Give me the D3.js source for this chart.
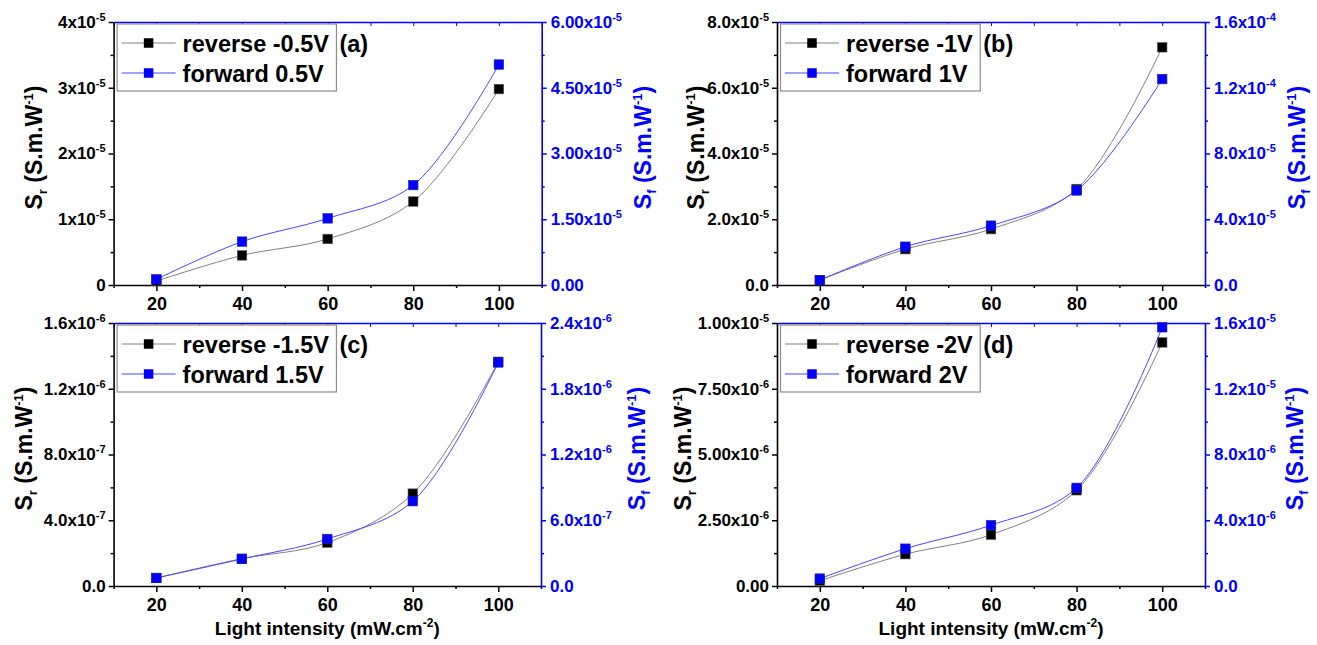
<!DOCTYPE html>
<html>
<head>
<meta charset="utf-8">
<script src="https://cdn.jsdelivr.net/npm/d3@7"></script>
<style>
  body { margin: 0; background: #fff; }
  svg text { font-family: "Liberation Sans", Arial, sans-serif; font-weight: bold; }
</style>
</head>
<body>
<svg id="chart" width="1317" height="645"></svg>
<script>
// light intensity (mW.cm-2)
const intensity = [20, 40, 60, 80, 100];

// photosensitivity values (S.m.W-1)
const reverseA = [0.6e-6, 4.5e-6, 7.0e-6, 12.7e-6, 29.8e-6];
const forwardA = [1.3e-6, 9.9e-6, 15.2e-6, 22.8e-6, 50.3e-6];
const reverseB = [1.5e-6, 10.9e-6, 17.0e-6, 29.2e-6, 72.3e-6];
const forwardB = [3.0e-6, 23.3e-6, 36.1e-6, 57.5e-6, 125.3e-6];
const reverseC = [0.49e-7, 1.66e-7, 2.64e-7, 5.62e-7, 13.64e-7];
const forwardC = [0.73e-7, 2.47e-7, 4.29e-7, 7.74e-7, 20.4e-7];
const reverseD = [0.2e-6, 1.21e-6, 1.95e-6, 3.64e-6, 9.26e-6];
const forwardD = [0.45e-6, 2.27e-6, 3.70e-6, 5.97e-6, 15.74e-6];

const reverseNames = ["reverse -0.5V", "reverse -1V", "reverse -1.5V", "reverse -2V"];
const forwardNames = ["forward 0.5V", "forward 1V", "forward 1.5V", "forward 2V"];
const panelLetters = ["(a)", "(b)", "(c)", "(d)"];

// tick labels ("^" marks the superscript part)
const leftTicksA = ["0", "1x10^-5", "2x10^-5", "3x10^-5", "4x10^-5"];
const rightTicksA = ["0.00", "1.50x10^-5", "3.00x10^-5", "4.50x10^-5", "6.00x10^-5"];
const leftTicksB = ["0.0", "2.0x10^-5", "4.0x10^-5", "6.0x10^-5", "8.0x10^-5"];
const rightTicksB = ["0.0", "4.0x10^-5", "8.0x10^-5", "1.2x10^-4", "1.6x10^-4"];
const leftTicksC = ["0.0", "4.0x10^-7", "8.0x10^-7", "1.2x10^-6", "1.6x10^-6"];
const rightTicksC = ["0.0", "6.0x10^-7", "1.2x10^-6", "1.8x10^-6", "2.4x10^-6"];
const leftTicksD = ["0.00", "2.50x10^-6", "5.00x10^-6", "7.50x10^-6", "1.00x10^-5"];
const rightTicksD = ["0.0", "4.0x10^-6", "8.0x10^-6", "1.2x10^-5", "1.6x10^-5"];

const xDomain = [10, 110];
const xMinor = [10, 30, 50, 70, 90, 110];
const xTop = [10, 20, 30, 40, 50, 60, 70, 80, 90, 100, 110];

const BLUE = "#0000ff";

const panels = [
  { rev: reverseA, fwd: forwardA, lt: leftTicksA, rt: rightTicksA,
    left: 113.6, right: 541.7, top: 22, bottom: 285, ltx: 42, rtx: 651, xTitle: false },
  { rev: reverseB, fwd: forwardB, lt: leftTicksB, rt: rightTicksB,
    left: 777, right: 1205, top: 22, bottom: 285, ltx: 704, rtx: 1305, xTitle: false },
  { rev: reverseC, fwd: forwardC, lt: leftTicksC, rt: rightTicksC,
    left: 113.6, right: 541, top: 323, bottom: 586, ltx: 32, rtx: 645, xTitle: true },
  { rev: reverseD, fwd: forwardD, lt: leftTicksD, rt: rightTicksD,
    left: 777, right: 1205, top: 323, bottom: 586, ltx: 691, rtx: 1303, xTitle: true }
];

const svg = d3.select("#chart");

function tickValue(s) {
  if (!s.includes("x10^")) return +s;
  const [m, e] = s.split("x10^");
  return +m * Math.pow(10, +e);
}

// rebuild a label with a superscript exponent
function richLabel(sel, s) {
  sel.text(null);
  const parts = s.split("^");
  sel.append("tspan").text(parts[0]);
  if (parts[1]) {
    sel.append("tspan").attr("dy", -7).attr("font-size", 11).text(parts[1]);
  }
}

function midpoints(vals) {
  return vals.slice(1).map((v, i) => (v + vals[i]) / 2);
}

function styleAxis(g, color) {
  g.attr("font-family", null).attr("font-size", null);
  g.select(".domain").attr("stroke", color).attr("stroke-width", 1.6);
  g.selectAll(".tick line").attr("stroke", color).attr("stroke-width", 1.5);
}

panels.forEach((p, k) => {
  const x = d3.scaleLinear().domain(xDomain).range([p.left, p.right]);
  const ltVals = p.lt.map(tickValue);
  const rtVals = p.rt.map(tickValue);
  const yL = d3.scaleLinear().domain([0, ltVals[ltVals.length - 1]]).range([p.bottom, p.top]);
  const yR = d3.scaleLinear().domain([0, rtVals[rtVals.length - 1]]).range([p.bottom, p.top]);

  const g = svg.append("g");

  // top axis (blue border with small inward ticks)
  const top = g.append("g").attr("transform", `translate(0,${p.top})`)
    .call(d3.axisTop(x).tickValues(xTop).tickSize(-4).tickSizeOuter(0).tickFormat(() => ""));
  styleAxis(top, BLUE);
  top.selectAll(".tick line").attr("stroke-width", 1);

  // bottom axis
  const bottom = g.append("g").attr("transform", `translate(0,${p.bottom})`)
    .call(d3.axisBottom(x).tickValues(intensity).tickSize(6).tickPadding(6).tickSizeOuter(0));
  styleAxis(bottom, "#000");
  bottom.selectAll(".tick text").attr("fill", "#000").attr("font-size", 18);
  const bottomMinor = g.append("g").attr("transform", `translate(0,${p.bottom})`)
    .call(d3.axisBottom(x).tickValues(xMinor).tickSize(3).tickFormat(() => ""));
  styleAxis(bottomMinor, "#000");
  bottomMinor.select(".domain").remove();

  // left axis
  const left = g.append("g").attr("transform", `translate(${p.left},0)`)
    .call(d3.axisLeft(yL).tickValues(ltVals).tickSize(5).tickPadding(3).tickSizeOuter(0)
      .tickFormat((d, i) => p.lt[i]));
  styleAxis(left, "#000");
  left.selectAll(".tick text").attr("fill", "#000").attr("font-size", 17)
    .each(function (d, i) { richLabel(d3.select(this), p.lt[i]); });
  const leftMinor = g.append("g").attr("transform", `translate(${p.left},0)`)
    .call(d3.axisLeft(yL).tickValues(midpoints(ltVals)).tickSize(3).tickFormat(() => ""));
  styleAxis(leftMinor, "#000");
  leftMinor.select(".domain").remove();

  // right axis (blue)
  const right = g.append("g").attr("transform", `translate(${p.right},0)`)
    .call(d3.axisRight(yR).tickValues(rtVals).tickSize(5).tickPadding(4).tickSizeOuter(0)
      .tickFormat((d, i) => p.rt[i]));
  styleAxis(right, BLUE);
  right.selectAll(".tick text").attr("fill", BLUE).attr("font-size", 17)
    .each(function (d, i) { richLabel(d3.select(this), p.rt[i]); });
  const rightMinor = g.append("g").attr("transform", `translate(${p.right},0)`)
    .call(d3.axisRight(yR).tickValues(midpoints(rtVals)).tickSize(3).tickFormat(() => ""));
  styleAxis(rightMinor, BLUE);
  rightMinor.select(".domain").remove();

  // axis titles
  const cy = (p.top + p.bottom) / 2 - 6;
  const lTitle = g.append("text")
    .attr("transform", `translate(${p.ltx},${cy}) rotate(-90)`)
    .attr("text-anchor", "middle").attr("font-size", 23).attr("fill", "#000");
  lTitle.append("tspan").text("S");
  lTitle.append("tspan").attr("dy", 5).attr("font-size", 13).text("r");
  lTitle.append("tspan").attr("dy", -5).text(" (S.m.W");
  lTitle.append("tspan").attr("dy", -9).attr("font-size", 13).text("-1");
  lTitle.append("tspan").attr("dy", 9).text(")");

  const rTitle = g.append("text")
    .attr("transform", `translate(${p.rtx},${cy}) rotate(-90)`)
    .attr("text-anchor", "middle").attr("font-size", 23).attr("fill", BLUE);
  rTitle.append("tspan").text("S");
  rTitle.append("tspan").attr("dy", 5).attr("font-size", 13).text("f");
  rTitle.append("tspan").attr("dy", -5).text(" (S.m.W");
  rTitle.append("tspan").attr("dy", -9).attr("font-size", 13).text("-1");
  rTitle.append("tspan").attr("dy", 9).text(")");

  if (p.xTitle) {
    const xt = g.append("text")
      .attr("x", (p.left + p.right) / 2).attr("y", 635)
      .attr("text-anchor", "middle").attr("font-size", 19).attr("fill", "#000");
    xt.append("tspan").text("Light intensity (mW.cm");
    xt.append("tspan").attr("dy", -8).attr("font-size", 12).text("-2");
    xt.append("tspan").attr("dy", 8).text(")");
  }

  // curves
  const line = yScale => d3.line()
    .x((d, i) => x(intensity[i]))
    .y(d => yScale(d))
    .curve(d3.curveCatmullRom.alpha(0.5));

  g.append("path").datum(p.rev).attr("d", line(yL))
    .attr("fill", "none").attr("stroke", "#7f7f7f").attr("stroke-width", 1);
  g.append("path").datum(p.fwd).attr("d", line(yR))
    .attr("fill", "none").attr("stroke", "#4646ff").attr("stroke-width", 1);

  const ms = 9.5;
  g.selectAll(".rev").data(p.rev).enter().append("rect")
    .attr("x", (d, i) => x(intensity[i]) - ms / 2).attr("y", d => yL(d) - ms / 2)
    .attr("width", ms).attr("height", ms)
    .attr("fill", "#000").attr("stroke", "#555").attr("stroke-width", 0.6);
  g.selectAll(".fwd").data(p.fwd).enter().append("rect")
    .attr("x", (d, i) => x(intensity[i]) - ms / 2).attr("y", d => yR(d) - ms / 2)
    .attr("width", ms).attr("height", ms)
    .attr("fill", BLUE).attr("stroke", "#2020a0").attr("stroke-width", 0.6);

  // legend
  const lg = g.append("g");
  const box = lg.append("rect")
    .attr("x", p.left + 3.5).attr("y", p.top + 2).attr("height", 67)
    .attr("fill", "#fff").attr("stroke", "#8c8c8c").attr("stroke-width", 1.2);
  const rows = [
    { name: reverseNames[k], line: "#7f7f7f", fill: "#000", dy: 21 },
    { name: forwardNames[k], line: "#4646ff", fill: BLUE, dy: 51 }
  ];
  let maxW = 0;
  rows.forEach(r => {
    const ry = p.top + r.dy;
    lg.append("line").attr("x1", p.left + 8).attr("x2", p.left + 62)
      .attr("y1", ry).attr("y2", ry).attr("stroke", r.line).attr("stroke-width", 1);
    lg.append("rect").attr("x", p.left + 35 - ms / 2).attr("y", ry - ms / 2)
      .attr("width", ms).attr("height", ms).attr("fill", r.fill);
    const t = lg.append("text").attr("x", p.left + 69).attr("y", ry + 8.5)
      .attr("font-size", 23.5).attr("fill", "#000").text(r.name);
    maxW = Math.max(maxW, t.node().getComputedTextLength());
  });
  const boxW = 69 + maxW + 4;
  box.attr("width", boxW);
  lg.append("text").attr("x", p.left + 3.5 + boxW + 3).attr("y", p.top + 21 + 8.5)
    .attr("font-size", 23.5).attr("fill", "#000").text(panelLetters[k]);
});
</script>
</body>
</html>
